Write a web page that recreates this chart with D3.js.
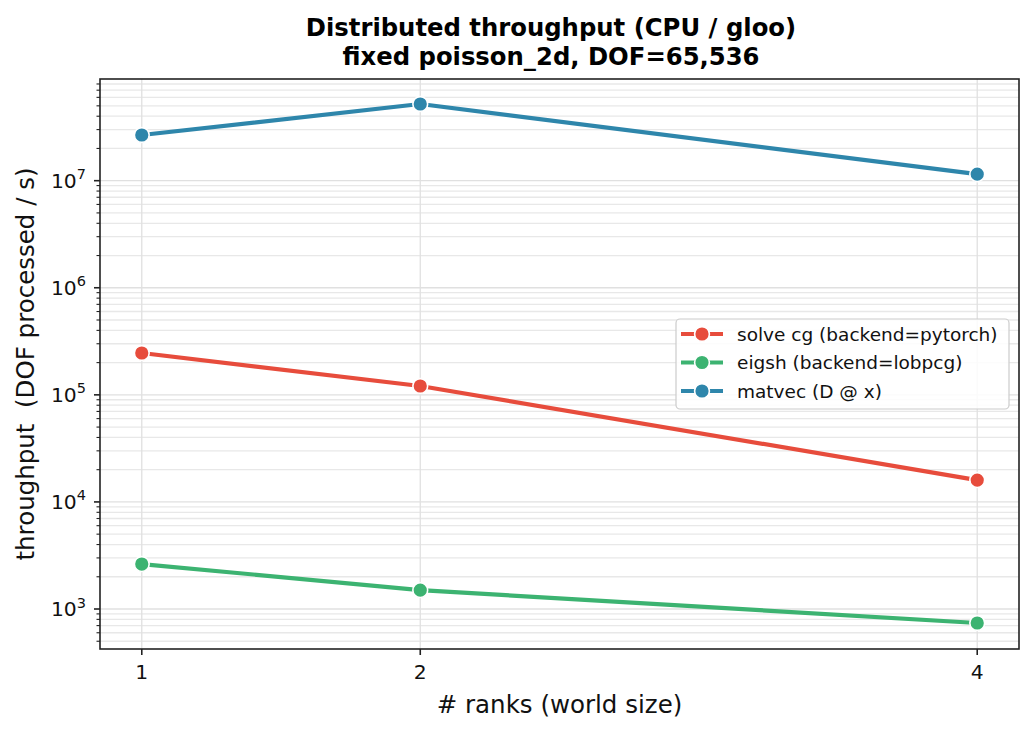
<!DOCTYPE html>
<html><head><meta charset="utf-8">
<script src="https://cdn.jsdelivr.net/npm/d3@7"></script>
<style>body{margin:0;background:#fff}svg{display:block;font-family:"DejaVu Sans",sans-serif}</style>
</head><body><svg id="c" width="1034" height="733"></svg>
<script>
const ranks = [1, 2, 4];
const seriesNames = ["solve cg (backend=pytorch)", "eigsh (backend=lobpcg)", "matvec (D @ x)"];
const seriesColors = ["#e74c3c", "#3cb371", "#2e86ab"];
const solveCg = [2.46e5, 1.21e5, 1.6e4];
const eigsh = [2.63e3, 1.5e3, 740];
const matvec = [2.67e7, 5.2e7, 1.15e7];
const yTickExps = [3, 4, 5, 6, 7];
const titleLines = ["Distributed throughput (CPU / gloo)", "fixed poisson_2d, DOF=65,536"];
const xLabel = "# ranks (world size)";
const yLabel = "throughput\u00a0\u00a0(DOF processed / s)";

const series = [solveCg, eigsh, matvec];
const svg = d3.select("#c");
const L = 100, R = 1019, T = 79, B = 649;
const x = d3.scaleLinear().domain([0.85, 4.15]).range([L, R]);
const y = d3.scaleLog().domain([Math.pow(10, 2.6265), Math.pow(10, 7.9496)]).range([B, T]);

// grid
const minors = [];
for (let e = 2; e <= 7; e++) for (let m = 2; m <= 9; m++) { const v = m * Math.pow(10, e); if (v >= y.domain()[0] && v <= y.domain()[1]) minors.push(v); }
const majors = yTickExps.map(e => Math.pow(10, e));
const g = svg.append("g");
g.selectAll(".mg").data(minors).join("line").attr("x1", L).attr("x2", R).attr("y1", d => y(d)).attr("y2", d => y(d)).attr("stroke", "#e8e8e8").attr("stroke-width", 1.3);
g.selectAll(".Mg").data(majors).join("line").attr("x1", L).attr("x2", R).attr("y1", d => y(d)).attr("y2", d => y(d)).attr("stroke", "#e0e0e0").attr("stroke-width", 1.3);
g.selectAll(".xg").data(ranks).join("line").attr("x1", d => x(d)).attr("x2", d => x(d)).attr("y1", T).attr("y2", B).attr("stroke", "#e0e0e0").attr("stroke-width", 1.3);

// lines & markers
series.forEach((s, i) => {
  const pts = ranks.map((r, j) => [r, s[j]]);
  svg.append("path").attr("d", d3.line().x(d => x(d[0])).y(d => y(d[1]))(pts)).attr("fill", "none").attr("stroke", seriesColors[i]).attr("stroke-width", 4.2).attr("stroke-linejoin", "round").attr("stroke-linecap", "butt");
  svg.selectAll(null).data(pts).join("circle").attr("cx", d => x(d[0])).attr("cy", d => y(d[1])).attr("r", 7.4).attr("fill", seriesColors[i]).attr("stroke", "#fff").attr("stroke-width", 1.6);
});

// spines
svg.append("rect").attr("x", L).attr("y", T).attr("width", R - L).attr("height", B - T).attr("fill", "none").attr("stroke", "#222").attr("stroke-width", 1.6);

// y ticks
const ax = svg.append("g");
ax.selectAll(".yt").data(majors).join("line").attr("x1", L - 6).attr("x2", L).attr("y1", d => y(d)).attr("y2", d => y(d)).attr("stroke", "#222").attr("stroke-width", 1.6);
ax.selectAll(".ymt").data(minors).join("line").attr("x1", L - 3.5).attr("x2", L).attr("y1", d => y(d)).attr("y2", d => y(d)).attr("stroke", "#222").attr("stroke-width", 1.1);
const yl = ax.selectAll(".yl").data(yTickExps).join("text").attr("x", L - 14).attr("y", d => y(Math.pow(10, d)) + 7).attr("text-anchor", "end").attr("font-size", 20.3).attr("fill", "#111");
yl.append("tspan").text("10");
yl.append("tspan").attr("dy", -8.5).attr("font-size", 14.5).text(d => d);

// x ticks
ax.selectAll(".xt").data(ranks).join("line").attr("x1", d => x(d)).attr("x2", d => x(d)).attr("y1", B).attr("y2", B + 6).attr("stroke", "#222").attr("stroke-width", 1.6);
ax.selectAll(".xl").data(ranks).join("text").attr("x", d => x(d)).attr("y", 679).attr("text-anchor", "middle").attr("font-size", 20.3).attr("fill", "#111").text(d => d);

// labels
svg.append("text").attr("x", (L + R) / 2).attr("y", 713).attr("text-anchor", "middle").attr("font-size", 24.5).attr("fill", "#111").text(xLabel);
svg.append("text").attr("transform", `translate(34,${(T + B) / 2}) rotate(-90)`).attr("text-anchor", "middle").attr("font-size", 24.5).attr("fill", "#111").text(yLabel);
svg.selectAll(".tt").data(titleLines).join("text").attr("x", 551).attr("y", (d, i) => 36 + i * 29).attr("text-anchor", "middle").attr("font-size", 24.3).attr("font-weight", "bold").attr("fill", "#000").text(d => d);

// legend
const lg = svg.append("g");
lg.append("rect").attr("x", 676).attr("y", 319).attr("width", 333).attr("height", 90).attr("rx", 4).attr("fill", "#fff").attr("fill-opacity", 0.85).attr("stroke", "#ccc").attr("stroke-width", 1.2);
seriesNames.forEach((n, i) => {
  const cy = 334 + i * 28.5;
  lg.append("line").attr("x1", 681).attr("x2", 723).attr("y1", cy).attr("y2", cy).attr("stroke", seriesColors[i]).attr("stroke-width", 4.2);
  lg.append("circle").attr("cx", 702).attr("cy", cy).attr("r", 7.4).attr("fill", seriesColors[i]).attr("stroke", "#fff").attr("stroke-width", 1.6);
  lg.append("text").attr("x", 737).attr("y", cy + 6.5).attr("font-size", 18.5).attr("fill", "#111").text(n);
});
</script></body></html>
